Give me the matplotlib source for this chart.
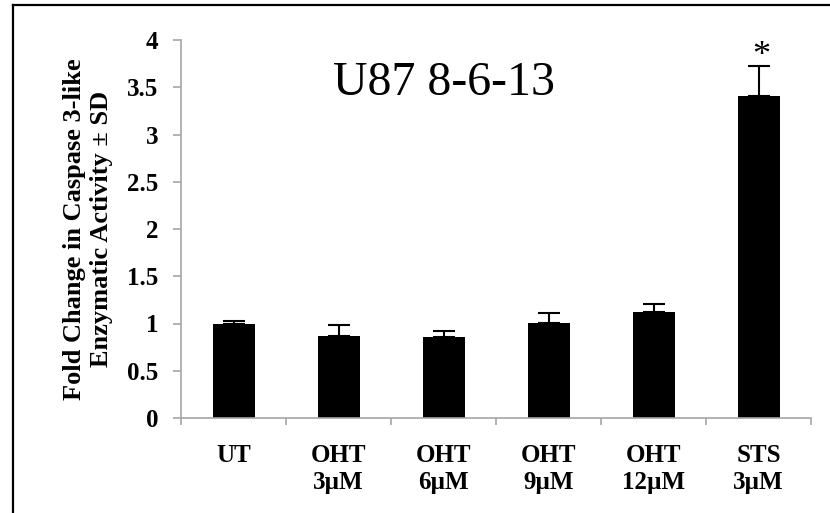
import matplotlib.pyplot as plt
from matplotlib.lines import Line2D
import numpy as np

plt.rcParams['font.family'] = ['Liberation Serif', 'DejaVu Serif']

# data
groups = ['UT', 'OHT\n3µM', 'OHT\n6µM', 'OHT\n9µM', 'OHT\n12µM', 'STS\n3µM']
fold = [1.00, 0.87, 0.86, 1.01, 1.125, 3.41]
sd = [0.03, 0.11, 0.06, 0.10, 0.08, 0.31]
signif = ['', '', '', '', '', '*']
yticks = [0, 0.5, 1, 1.5, 2, 2.5, 3, 3.5, 4]
ytick_labels = ['0', '0.5', '1', '1.5', '2', '2.5', '3', '3.5', '4']

fig = plt.figure(figsize=(8.3, 5.13), dpi=100)
ax = fig.add_axes([181/830, 1-418/513, 630/830, 378/513])

x = np.arange(len(groups))
ax.bar(x, fold, width=0.4, color='black', zorder=2)
ax.errorbar(x, fold, yerr=[np.zeros(len(sd)), sd], fmt='none', ecolor='black',
            elinewidth=1.5, capsize=8, capthick=1.5, zorder=3)

for xi, v, e, s in zip(x, fold, sd, signif):
    if s:
        ax.text(xi+0.03, v+e-0.07, s, ha='center', va='bottom', fontsize=26)

ax.set_xlim(-0.5, len(groups)-0.5)
ax.set_ylim(0, 4)

grey = '#a6a6a6'
for side in ['top', 'right']:
    ax.spines[side].set_visible(False)
for side in ['left', 'bottom']:
    ax.spines[side].set_color(grey)
    ax.spines[side].set_linewidth(1.2)

ax.set_yticks(yticks)
ax.set_yticklabels(ytick_labels, fontsize=18, fontweight='bold')
ax.tick_params(axis='y', direction='out', length=5.5, width=1.2, color=grey,
               pad=11)

ax.set_xticks(x)
ax.set_xticklabels(groups, fontsize=18, fontweight='bold', linespacing=1.2)
ax.tick_params(axis='x', which='major', length=0, pad=19)
ax.set_xticks(np.arange(-0.5, len(groups), 1.0), minor=True)
ax.tick_params(axis='x', which='minor', direction='out', length=5, width=1.2,
               color=grey)

ax.set_ylabel('Fold Change in Caspase 3-like\nEnzymatic Activity ± SD',
              fontsize=19, fontweight='bold', linespacing=1.2)
ax.yaxis.set_label_coords(-0.108, 0.5)

ax.text(0.417, 0.854, 'U87 8-6-13', transform=ax.transAxes, ha='center',
        va='baseline', fontsize=34.5)

# frame lines at the top and left of the picture
fig.add_artist(Line2D([13/830, 1], [1-5/513, 1-5/513], color='black', lw=1.6))
fig.add_artist(Line2D([13/830, 13/830], [0, 1-5/513], color='black', lw=1.6))

plt.savefig('out.png', dpi=100)
